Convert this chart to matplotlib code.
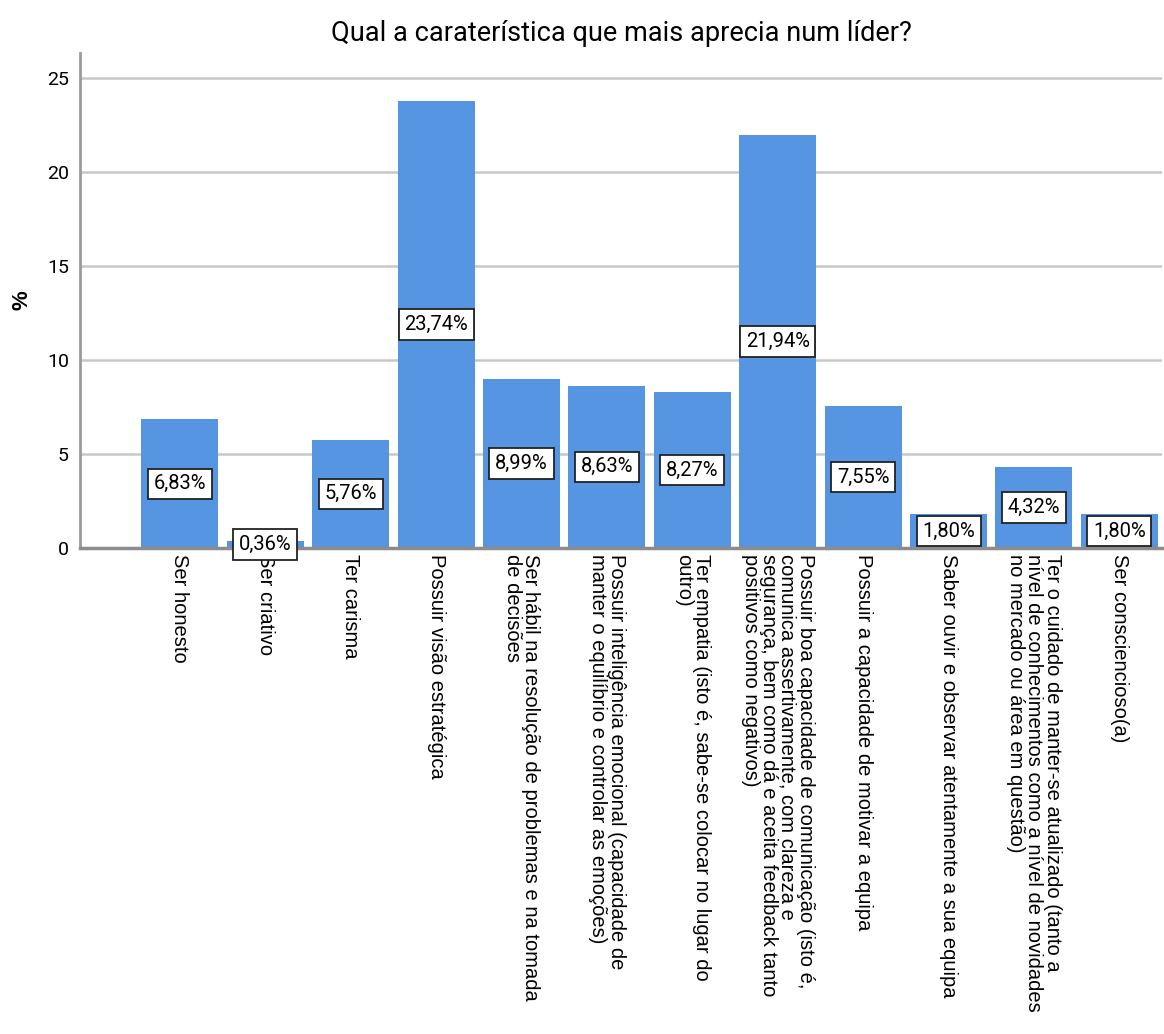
import matplotlib
matplotlib.use("Agg")
import matplotlib.pyplot as plt
from matplotlib import font_manager

# categories and percentages
categories = [
    "Ser honesto",
    "Ser criativo",
    "Ter carisma",
    "Possuir visão estratégica",
    "Ser hábil na resolução de problemas e na tomada\nde decisões",
    "Possuir inteligência emocional (capacidade de\nmanter o equilíbrio e controlar as emoções)",
    "Ter empatia (isto é, sabe-se colocar no lugar do\noutro)",
    "Possuir boa capacidade de comunicação (isto é,\ncomunica assertivamente, com clareza e\n"
    "segurança, bem como dá e aceita feedback tanto\npositivos como negativos)",
    "Possuir a capacidade de motivar a equipa",
    "Saber ouvir e observar atentamente a sua equipa",
    "Ter o cuidado de manter-se atualizado (tanto a\nnível de conhecimentos como a nível de novidades\n"
    "no mercado ou área em questão)",
    "Ser consciencioso(a)",
]
percent = [6.83, 0.36, 5.76, 23.74, 8.99, 8.63, 8.27, 21.94, 7.55, 1.80, 4.32, 1.80]
yticks = [0, 5, 10, 15, 20, 25]

names = {f.name for f in font_manager.fontManager.ttflist}
narrow = ["Liberation Sans Narrow", "Liberation Sans"] if "Liberation Sans Narrow" in names else ["Roboto", "Liberation Sans"]
regular = ["Liberation Sans", "DejaVu Sans"]

bar_color = "#5695e2"

fig = plt.figure(figsize=(11.64, 10.34), dpi=100)
ax = fig.add_axes([0.0687, 0.47, 0.9296, 0.4787])

x = list(range(len(percent)))
ax.bar(x, percent, width=0.9, color=bar_color, zorder=2)

# value labels in the middle of each bar
for xi, v in zip(x, percent):
    ax.text(xi, v / 2, f"{v:.2f}%".replace(".", ","), ha="center", va="center",
            fontsize=14.5, family=narrow, zorder=5, clip_on=False,
            bbox=dict(boxstyle="square,pad=0.28", fc="white", ec="#222222", lw=1.3))

ax.set_xlim(-1.17, 11.5)
ax.set_ylim(0, 26.3)
ax.set_yticks(yticks)
ax.set_yticklabels([str(t) for t in yticks], family=narrow, fontsize=14)
ax.yaxis.grid(True, color="#c8c8c8", lw=1.8, zorder=0)
ax.set_axisbelow(True)

ax.set_xticks(x)
ax.set_xticklabels(categories, rotation=270, ha="center", va="top",
                   multialignment="left", family=regular, fontsize=14.5,
                   linespacing=0.95)
ax.tick_params(axis="both", length=0)
ax.tick_params(axis="x", pad=4)
ax.tick_params(axis="y", pad=8)

for s in ["top", "right"]:
    ax.spines[s].set_visible(False)
ax.spines["left"].set_color("#9a9a9a")
ax.spines["left"].set_linewidth(2)
ax.spines["bottom"].set_color("#8c8c8c")
ax.spines["bottom"].set_linewidth(2.5)

ax.set_ylabel("%", family=regular, fontsize=16, fontweight="bold", labelpad=10)
ax.set_title("Qual a caraterística que mais aprecia num líder?", family=narrow,
             fontsize=19.5, pad=9)

fig.savefig("out.png", dpi=100)
